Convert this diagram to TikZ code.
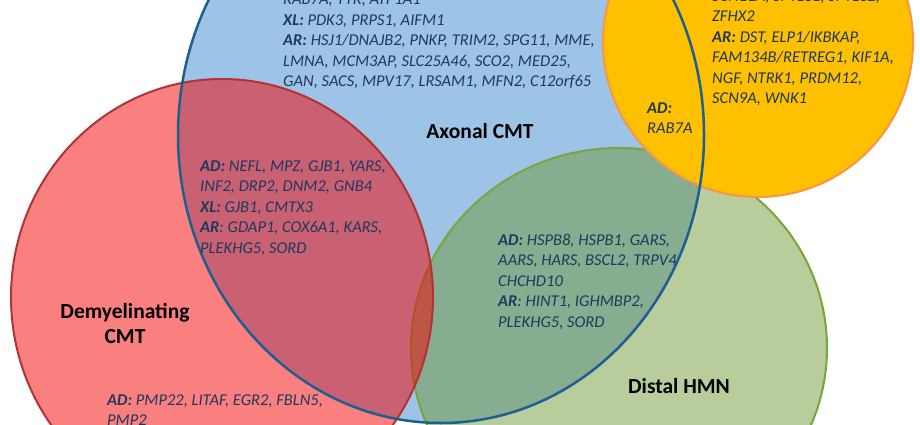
\documentclass[tikz,border=0pt]{standalone}
\usepackage{fontspec}
\setmainfont{Carlito}
\definecolor{bluefill}{RGB}{157,195,230}
\definecolor{blueline}{RGB}{30,95,145}
\definecolor{redbase}{RGB}{245,0,0}
\definecolor{redline}{RGB}{176,52,52}
\definecolor{greenbase}{RGB}{113,153,57}
\definecolor{greenline}{RGB}{120,165,60}
\definecolor{orangefill}{RGB}{255,192,0}
\definecolor{orangeline}{RGB}{247,150,70}
\definecolor{genetext}{RGB}{31,56,96}
\begin{document}
\begin{tikzpicture}[x=1pt,y=-1pt,
  genes/.style={anchor=north west, inner sep=0pt, align=left, text=genetext,
    font=\fontsize{16.5}{20.5}\selectfont\itshape},
  settitle/.style={anchor=base, inner sep=0pt, align=center, text=black,
    font=\fontsize{21.5}{25}\selectfont\bfseries}]
\useasboundingbox (0,0) rectangle (920,425);
\clip (0,0) rectangle (920,425);
% sets
\fill[bluefill] (441,135) ellipse [x radius=263pt, y radius=288pt];
\fill[greenbase, fill opacity=0.5] (619,348) ellipse [x radius=208pt, y radius=200pt];
\draw[greenline, line width=2pt] (619,348) ellipse [x radius=208pt, y radius=200pt];
\fill[redbase, fill opacity=0.5] (222,297) ellipse [x radius=211pt, y radius=218pt];
\draw[redline, line width=2pt] (222,297) ellipse [x radius=211pt, y radius=218pt];
\fill[orangefill] (758,42) circle [radius=155pt];
\draw[orangeline, line width=2pt] (758,42) circle [radius=155pt];
\draw[blueline, line width=2.5pt] (441,135) ellipse [x radius=263pt, y radius=288pt];
% titles
\node[settitle] (axonal) at (480,138) {Axonal CMT};
\node[settitle] (demyel) at (125,343) {Demyelinating\\CMT};
\node[settitle] (dhmn) at (679,393) {Distal HMN};
% gene lists
\node[genes] (axgenes) at (283,-9.85) {\strut RAB7A, TTR, ATP1A1\\
\textbf{XL:} PDK3, PRPS1, AIFM1\\
\textbf{AR:} HSJ1/DNAJB2, PNKP, TRIM2, SPG11, MME,\\
LMNA, MCM3AP, SLC25A46, SCO2, MED25,\\
GAN, SACS, MPV17, LRSAM1, MFN2, C12orf65};
\node[genes] (hsangenes) at (712,-13.5) {\strut SCN11A, SPTLC1, SPTLC2,\\
ZFHX2\\
\textbf{AR:} DST, ELP1/IKBKAP,\\
FAM134B/RETREG1, KIF1A,\\
NGF, NTRK1, PRDM12,\\
SCN9A, WNK1};
\node[genes] (hsanax) at (647,98.65) {\strut\textbf{AD:}\\RAB7A};
\node[genes] (demax) at (200,156.65) {\strut\textbf{AD:} NEFL, MPZ, GJB1, YARS,\\
INF2, DRP2, DNM2, GNB4\\
\textbf{XL:} GJB1, CMTX3\\
\textbf{AR}: GDAP1, COX6A1, KARS,\\
PLEKHG5, SORD};
\node[genes] (demgenes) at (107,390.65) {\strut\textbf{AD:} PMP22, LITAF, EGR2, FBLN5,\\
PMP2};
\node[genes] (hmnax) at (498,230.65) {\strut\textbf{AD:} HSPB8, HSPB1, GARS,\\
AARS, HARS, BSCL2, TRPV4\\
CHCHD10\\
\textbf{AR}: HINT1, IGHMBP2,\\
PLEKHG5, SORD};
\end{tikzpicture}
\end{document}
